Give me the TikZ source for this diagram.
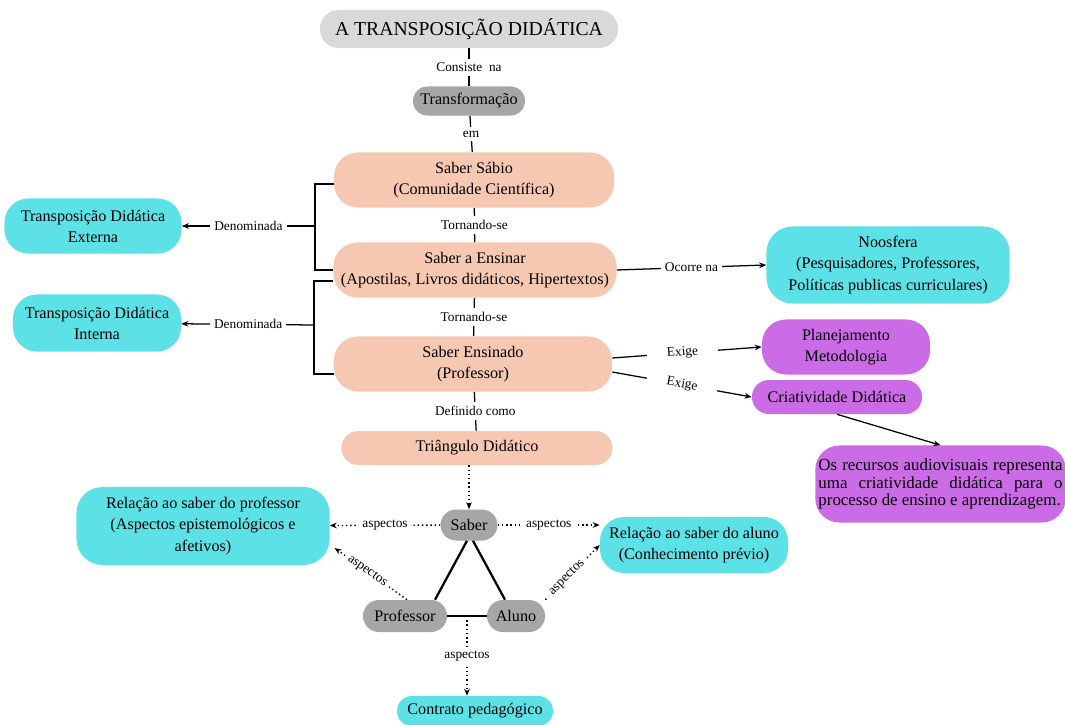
\documentclass[tikz,border=0pt]{standalone}
\usepackage{fontspec}
\setmainfont{Liberation Serif}
\usetikzlibrary{arrows.meta}

\definecolor{cinza}{HTML}{D9D9D9}
\definecolor{cinzaesc}{HTML}{A6A6A6}
\definecolor{pessego}{HTML}{F6C8B2}
\definecolor{ciano}{HTML}{5CE1E6}
\definecolor{roxo}{HTML}{CB6CE6}

\begin{document}
\begin{tikzpicture}[x=0.025cm, y=-0.025cm, >={Stealth[length=5pt,width=4pt]},
  every node/.style={align=center, inner sep=0pt, font=\fontsize{11.5}{15}\selectfont},
  caixa/.style={rounded corners=0.6cm},
  rot/.style={fill=white, inner sep=0.1cm, font=\fontsize{9.5}{11}\selectfont},
  liga/.style={line width=0.9pt},
  pont/.style={dotted, line width=1pt}]

\useasboundingbox (0,0) rectangle (1065,724);

\node[fill=cinza, rounded corners=0.47cm, minimum width=7.45cm, minimum height=0.95cm, font=\fontsize{14}{16}\selectfont] (titulo) at (469,29) {A TRANSPOSIÇÃO DIDÁTICA};
\node[fill=cinzaesc, rounded corners=0.36cm, minimum width=2.8cm, minimum height=0.725cm] (transf) at (469,101) {Transformação};

\node[fill=pessego, caixa, minimum width=7cm, minimum height=1.375cm] (sabio) at (474,180) {Saber Sábio\\(Comunidade Científica)};
\node[fill=pessego, caixa, minimum width=7.075cm, minimum height=1.375cm] (ensinar) at (475,270) {Saber a Ensinar\\(Apostilas, Livros didáticos, Hipertextos)};
\node[fill=pessego, caixa, minimum width=6.95cm, minimum height=1.375cm] (ensinado) at (473,364) {Saber Ensinado\\(Professor)};
\node[fill=pessego, rounded corners=0.42cm, minimum width=6.775cm, minimum height=0.85cm] (triangulo) at (477,448) {Triângulo Didático};

\node[fill=cinzaesc, rounded corners=0.39cm, minimum width=1.425cm, minimum height=0.775cm] (saber) at (469,525) {Saber};
\node[fill=cinzaesc, rounded corners=0.4cm, minimum width=2.1cm, minimum height=0.8cm] (prof) at (405,616) {Professor};
\node[fill=cinzaesc, rounded corners=0.4cm, minimum width=1.45cm, minimum height=0.8cm] (aluno) at (516,616) {Aluno};

\node[fill=ciano, caixa, minimum width=4.425cm, minimum height=1.375cm] (externa) at (93,226) {Transposição Didática\\Externa};
\node[fill=ciano, caixa, minimum width=4.2cm, minimum height=1.425cm] (interna) at (97,323) {Transposição Didática\\Interna};
\node[fill=ciano, rounded corners=0.65cm, minimum width=6.075cm, minimum height=1.925cm] (noosfera) at (888,265) {Noosfera\\(Pesquisadores, Professores,\\Políticas publicas curriculares)};
\node[fill=ciano, rounded corners=0.65cm, minimum width=6.325cm, minimum height=1.95cm] (relprof) at (203,526) {Relação ao saber do professor\\(Aspectos epistemológicos e\\afetivos)};
\node[fill=ciano, rounded corners=0.6cm, minimum width=4.7cm, minimum height=1.4cm] (relaluno) at (694,545) {Relação ao saber do aluno\\(Conhecimento prévio)};
\node[fill=ciano, rounded corners=0.37cm, minimum width=3.9cm, minimum height=0.75cm] (contrato) at (475,711) {Contrato pedagógico};

\node[fill=roxo, caixa, minimum width=4.2cm, minimum height=1.375cm] (planej) at (846,347) {Planejamento\\Metodologia};
\node[fill=roxo, rounded corners=0.42cm, minimum width=4.25cm, minimum height=0.85cm] (criat) at (837,397) {Criatividade Didática};
\node[fill=roxo, caixa, anchor=west, text width=6.1cm, align=justify, inner xsep=0.08cm, minimum height=1.925cm, font=\fontsize{12}{12.2}\selectfont] (recursos) at (815,484) {Os recursos audiovisuais representa\linebreak uma criatividade didática para o\linebreak processo de ensino e aprendizagem.};

\draw[liga] (titulo) -- (transf) node[rot, midway] (consiste) {Consiste\ \ na};
\draw[liga] (transf) -- (sabio) node[rot, midway] (em) {em};
\draw[liga] (sabio) -- (ensinar) node[rot, midway] (torn1) {Tornando-se};
\draw[liga] (ensinar) -- (ensinado) node[rot, midway] (torn2) {Tornando-se};
\draw[liga] (ensinado) -- (triangulo) node[rot, midway] (definido) {Definido como};

\draw[line width=1.3pt] ([yshift=-0.1cm]sabio.west) -- ++(-19,0) |- (ensinar.west);
\coordinate (chave1) at (315,226);
\draw[liga,->] (chave1) -- (externa) node[rot, midway] (denom1) {Denominada};

\draw[line width=1.3pt] ([yshift=-0.275cm]ensinar.west) -- ++(-19,0) |- ([yshift=-0.25cm]ensinado.west);
\coordinate (chave2) at (315,325);
\draw[liga,->] (chave2) -- (interna) node[rot, midway] (denom2) {Denominada};

\draw[liga,->] (ensinar.east) -- (noosfera.west) node[rot, midway] (ocorre) {Ocorre na};
\draw[liga,->] ([yshift=0.15cm]ensinado.east) -- (planej.west) node[rot, pos=0.47, sloped, inner xsep=0.5cm] (exige1) {Exige};
\draw[liga,->] ([yshift=-0.2cm]ensinado.east) -- (criat.west) node[rot, pos=0.5, sloped, inner xsep=0.5cm] (exige2) {Exige};
\draw[liga,->] (criat.south) -- (recursos.north);

\draw[pont,->] (triangulo.south -| saber.north) -- (saber.north);
\draw[line width=1.6pt] ([xshift=-0.05cm]saber.south) -- ([xshift=0.75cm]prof.north);
\draw[line width=1.6pt] ([xshift=0.1cm]saber.south) -- ([xshift=-0.275cm]aluno.north);
\draw[line width=1.6pt] (prof) -- (aluno);
\path (prof.east) -- (aluno.west) coordinate[midway] (base);

\draw[pont,->] (saber) -- (relprof) node[rot, midway] (asp1) {aspectos};
\draw[pont,->] (saber.east) -- (saber.east -| relaluno.west) node[rot, midway] (asp2) {aspectos};
\draw[pont,->] ([xshift=0.05cm]prof.north) -- ([shift={(0.12cm,-0.55cm)}]relprof.east) node[rot, pos=0.55, sloped] (asp3) {aspectos};
\draw[pont,->] (aluno.north east) -- (relaluno.west) node[rot, pos=0.4, sloped] (asp4) {aspectos};
\draw[pont,->] (base) -- (base |- contrato.north) node[rot, midway] (asp5) {aspectos};

\end{tikzpicture}
\end{document}
